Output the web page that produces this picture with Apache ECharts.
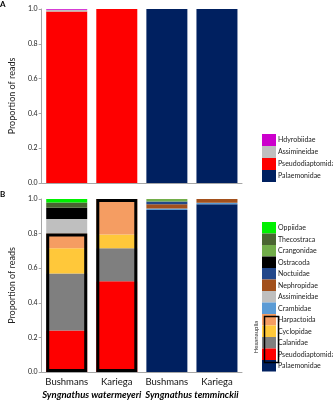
<!DOCTYPE html>
<html>
<head>
<meta charset="utf-8">
<script src="https://cdn.jsdelivr.net/npm/echarts@6/dist/echarts.min.js"></script>
<style>
  html, body { margin: 0; padding: 0; background: #fff; }
  #chart { width: 333px; height: 400px; }
</style>
</head>
<body>
<div id="chart"></div>
<script>
// ====== categories ======
const sites = ["Bushmans", "Kariega", "Bushmans", "Kariega"];
const species = ["Syngnathus watermeyeri", "Syngnathus temminckii"];

// ====== panel A (proportion of reads) ======
const aPalaemonidae = [0, 0, 1, 1];
const aPseudodiaptomidae = [0.985, 1, 0, 0];
const aAssimineidae = [0.01, 0, 0, 0];
const aHdyrobiidae = [0.005, 0, 0, 0];

// ====== panel B ======
const bPalaemonidae = [0, 0, 0.937, 0.97];
const bPseudodiaptomidae = [0.24, 0.525, 0, 0];
const bCalanidae = [0.33, 0.19, 0, 0];
const bCyclopidae = [0.145, 0.08, 0, 0];
const bHarpactoida = [0.085, 0.205, 0, 0];
const bCrambidae = [0, 0, 0.008, 0.008];
const bAssimineidae = [0.085, 0, 0, 0];
const bNephropidae = [0, 0, 0.025, 0.022];
const bNoctuidae = [0, 0, 0.015, 0];
const bOstracoda = [0.065, 0, 0, 0];
const bCrangonidae = [0, 0, 0.015, 0];
const bThecostraca = [0.03, 0, 0, 0];
const bOppiidae = [0.02, 0, 0, 0];
// Hexanauplia outline (sum of copepod families)
const bHexanauplia = [0.8, 1.0, "-", "-"];

const legendA = ["Hdyrobiidae", "Assimineidae", "Pseudodiaptomidae", "Palaemonidae"];
const legendB = [
  "Oppiidae", "Thecostraca", "Crangonidae", "Ostracoda", "Noctuidae", "Nephropidae",
  "Assimineidae", "Crambidae", "Harpactoida", "Cyclopidae", "Calanidae",
  "Pseudodiaptomidae", "Palaemonidae",
];

const colors = {
  Oppiidae: "#00f000",
  Thecostraca: "#4a6531",
  Crangonidae: "#72ad4a",
  Ostracoda: "#000000",
  Noctuidae: "#22478a",
  Nephropidae: "#a2501c",
  Assimineidae: "#bfbfbf",
  Crambidae: "#5b9bd5",
  Harpactoida: "#f59d62",
  Cyclopidae: "#ffc83a",
  Calanidae: "#7f7f7f",
  Pseudodiaptomidae: "#fe0000",
  Palaemonidae: "#002060",
  Hdyrobiidae: "#cc00cc",
};

const FONT = "Lato";
const axisGray = "#a6a6a6";

const stackA = [
  ["Palaemonidae", aPalaemonidae],
  ["Pseudodiaptomidae", aPseudodiaptomidae],
  ["Assimineidae", aAssimineidae],
  ["Hdyrobiidae", aHdyrobiidae],
];
const stackB = [
  ["Palaemonidae", bPalaemonidae],
  ["Pseudodiaptomidae", bPseudodiaptomidae],
  ["Calanidae", bCalanidae],
  ["Cyclopidae", bCyclopidae],
  ["Harpactoida", bHarpactoida],
  ["Crambidae", bCrambidae],
  ["Assimineidae", bAssimineidae],
  ["Nephropidae", bNephropidae],
  ["Noctuidae", bNoctuidae],
  ["Ostracoda", bOstracoda],
  ["Crangonidae", bCrangonidae],
  ["Thecostraca", bThecostraca],
  ["Oppiidae", bOppiidae],
];

const barW = 41;

const series = [];
stackA.forEach(([name, data]) => {
  series.push({
    name, type: "bar", stack: "A", xAxisIndex: 0, yAxisIndex: 0,
    barWidth: barW, data, itemStyle: { color: colors[name] },
  });
});
stackB.forEach(([name, data]) => {
  series.push({
    name, type: "bar", stack: "B", xAxisIndex: 1, yAxisIndex: 1,
    barWidth: barW, barGap: "-100%", data, itemStyle: { color: colors[name] },
  });
});
series.push({
  name: "Hexanauplia", type: "bar", xAxisIndex: 1, yAxisIndex: 1,
  barWidth: barW, barGap: "-100%", z: 5, data: bHexanauplia,
  itemStyle: { color: "rgba(0,0,0,0)", borderColor: "#000", borderWidth: 3 },
});

const yAxisBase = (gridIndex) => ({
  type: "value", gridIndex, min: 0, max: 1, interval: 0.2,
  name: "Proportion of reads", nameLocation: "middle", nameGap: 21,
  nameTextStyle: { fontFamily: FONT, fontSize: 9, color: "#222" },
  axisLine: { show: true, lineStyle: { color: axisGray } },
  axisTick: { show: true, length: 3, lineStyle: { color: axisGray } },
  axisLabel: { fontFamily: FONT, fontSize: 7, color: "#222", margin: 4, formatter: (v) => v.toFixed(1) },
  splitLine: { show: false },
});

const legendBase = (top, itemHeight, data) => ({
  orient: "vertical", left: 262, top, width: 80, padding: 0,
  itemWidth: 14, itemHeight, itemGap: 0,
  icon: "rect", selectedMode: false, data,
  textStyle: { fontFamily: FONT, fontSize: 7, color: "#222", padding: [0, 0, 0, -3], overflow: "none" },
});

const option = {
  animation: false,
  textStyle: { fontFamily: FONT },
  title: [
    { text: "A", left: 0, top: 0, textStyle: { fontFamily: FONT, fontSize: 8, fontWeight: "bold", color: "#000" }, padding: 0 },
    { text: "B", left: 0, top: 190, textStyle: { fontFamily: FONT, fontSize: 8, fontWeight: "bold", color: "#000" }, padding: 0 },
  ],
  legend: [legendBase(134, 12, legendA), legendBase(222, 11.5, legendB)],
  grid: [
    { left: 38, right: 91, top: 9, bottom: 217 },
    { left: 38, right: 91, top: 199, bottom: 27 },
  ],
  xAxis: [
    {
      type: "category", gridIndex: 0, data: sites,
      axisLine: { lineStyle: { color: axisGray } },
      axisTick: { show: false }, axisLabel: { show: false },
    },
    {
      type: "category", gridIndex: 1, data: sites,
      axisLine: { lineStyle: { color: axisGray } },
      axisTick: { show: false },
      axisLabel: { interval: 0, fontFamily: FONT, fontSize: 9.5, color: "#111", margin: 5 },
    },
    {
      type: "category", gridIndex: 1, position: "bottom", offset: 13, data: species,
      axisLine: { show: false }, axisTick: { show: false },
      axisLabel: { interval: 0, fontFamily: FONT, fontSize: 9.5, fontWeight: "bold", fontStyle: "italic", color: "#000", margin: 5 },
    },
  ],
  yAxis: [yAxisBase(0), yAxisBase(1)],
  graphic: [
    {
      type: "rect", left: 262, top: 314,
      shape: { width: 14, height: 46 },
      style: { fill: "none", stroke: "#000", lineWidth: 1.5 },
      z: 100,
    },
    {
      type: "text", x: 256, y: 337, rotation: Math.PI / 2,
      style: { text: "Hexanauplia", fontFamily: FONT, fontSize: 6, fill: "#222", align: "center", verticalAlign: "middle" },
    },
  ],
  series,
};

const chart = echarts.init(document.getElementById("chart"));
chart.setOption(option);
</script>
</body>
</html>
